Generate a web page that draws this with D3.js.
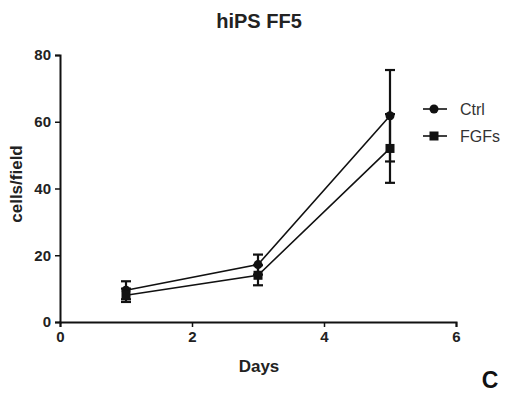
<!DOCTYPE html>
<html>
<head>
<meta charset="utf-8">
<script src="https://cdn.jsdelivr.net/npm/d3@7"></script>
<style>
  html, body { margin: 0; padding: 0; background: #fff; }
  svg { display: block; font-family: "Liberation Sans", Arial, sans-serif; }
</style>
</head>
<body>
<svg id="chart" width="507" height="397"></svg>
<script>
// Cell counts per field over time, mean ± error
const days = [1, 3, 5];
const ctrlMean = [9.5, 17.2, 61.8];
const ctrlErr = [2.7, 3.0, 13.7];
const fgfMean = [8.0, 14.0, 52.0];
const fgfErr = [2.0, 3.0, 10.3];
const xTicks = [0, 2, 4, 6];
const yTicks = [0, 20, 40, 60, 80];
const seriesNames = ["Ctrl", "FGFs"];

const svg = d3.select("#chart");
const x = d3.scaleLinear().domain([0, 6]).range([60, 456]);
const y = d3.scaleLinear().domain([0, 80]).range([322, 55]);

// title
svg.append("text").attr("x", 259).attr("y", 28).attr("text-anchor", "middle")
  .attr("font-weight", "bold").attr("font-size", 20).attr("fill", "#222").text("hiPS FF5");

// axes
const xAxis = svg.append("g").attr("transform", "translate(0,322)")
  .call(d3.axisBottom(x).tickValues(xTicks).tickFormat(d3.format("d")).tickSize(5).tickPadding(4));
const yAxis = svg.append("g").attr("transform", "translate(60,0)")
  .call(d3.axisLeft(y).tickValues(yTicks).tickFormat(d3.format("d")).tickSize(5).tickPadding(4));
[xAxis, yAxis].forEach(g => {
  g.select(".domain").attr("stroke", "#111").attr("stroke-width", 2);
  g.selectAll(".tick line").attr("stroke", "#111").attr("stroke-width", 1.5);
  g.selectAll(".tick text").attr("font-family", "Liberation Sans, Arial, sans-serif")
    .attr("font-weight", "bold").attr("font-size", 15).attr("fill", "#222");
});

// axis labels
svg.append("text").attr("x", 259).attr("y", 372).attr("text-anchor", "middle")
  .attr("font-weight", "bold").attr("font-size", 17).attr("fill", "#222").text("Days");
svg.append("text").attr("transform", "translate(22,184) rotate(-90)").attr("text-anchor", "middle")
  .attr("font-weight", "bold").attr("font-size", 17).attr("fill", "#222").text("cells/field");

// panel letter
svg.append("text").attr("x", 490).attr("y", 388).attr("text-anchor", "middle")
  .attr("font-weight", "bold").attr("font-size", 23).attr("fill", "#111").text("C");

const series = [
  { name: seriesNames[0], mean: ctrlMean, err: ctrlErr, shape: "circle" },
  { name: seriesNames[1], mean: fgfMean, err: fgfErr, shape: "square" }
];

const line = d3.line().x(d => x(d[0])).y(d => y(d[1]));

series.forEach(s => {
  const pts = days.map((d, i) => [d, s.mean[i], s.err[i]]);
  const g = svg.append("g");
  g.append("path").attr("d", line(pts)).attr("fill", "none")
    .attr("stroke", "#111").attr("stroke-width", 1.6);
  // error bars
  pts.forEach(p => {
    const cx = x(p[0]);
    g.append("line").attr("x1", cx).attr("x2", cx).attr("y1", y(p[1] - p[2])).attr("y2", y(p[1] + p[2]))
      .attr("stroke", "#111").attr("stroke-width", 2.2);
    [p[1] - p[2], p[1] + p[2]].forEach(v => {
      g.append("line").attr("x1", cx - 5).attr("x2", cx + 5).attr("y1", y(v)).attr("y2", y(v))
        .attr("stroke", "#111").attr("stroke-width", 2.2);
    });
  });
  // markers
  pts.forEach(p => {
    if (s.shape === "circle") {
      g.append("circle").attr("cx", x(p[0])).attr("cy", y(p[1])).attr("r", 4.5).attr("fill", "#111");
    } else {
      g.append("rect").attr("x", x(p[0]) - 4.5).attr("y", y(p[1]) - 4.5)
        .attr("width", 9).attr("height", 9).attr("fill", "#111");
    }
  });
});

// legend
series.forEach((s, i) => {
  const ly = 109 + i * 27;
  const g = svg.append("g");
  g.append("line").attr("x1", 423).attr("x2", 447).attr("y1", ly).attr("y2", ly)
    .attr("stroke", "#111").attr("stroke-width", 1.6);
  if (s.shape === "circle") {
    g.append("circle").attr("cx", 434).attr("cy", ly).attr("r", 4.5).attr("fill", "#111");
  } else {
    g.append("rect").attr("x", 429.5).attr("y", ly - 4.5).attr("width", 9).attr("height", 9).attr("fill", "#111");
  }
  g.append("text").attr("x", 460).attr("y", ly + 6).attr("font-size", 16).attr("fill", "#333").text(s.name);
});
</script>
</body>
</html>
